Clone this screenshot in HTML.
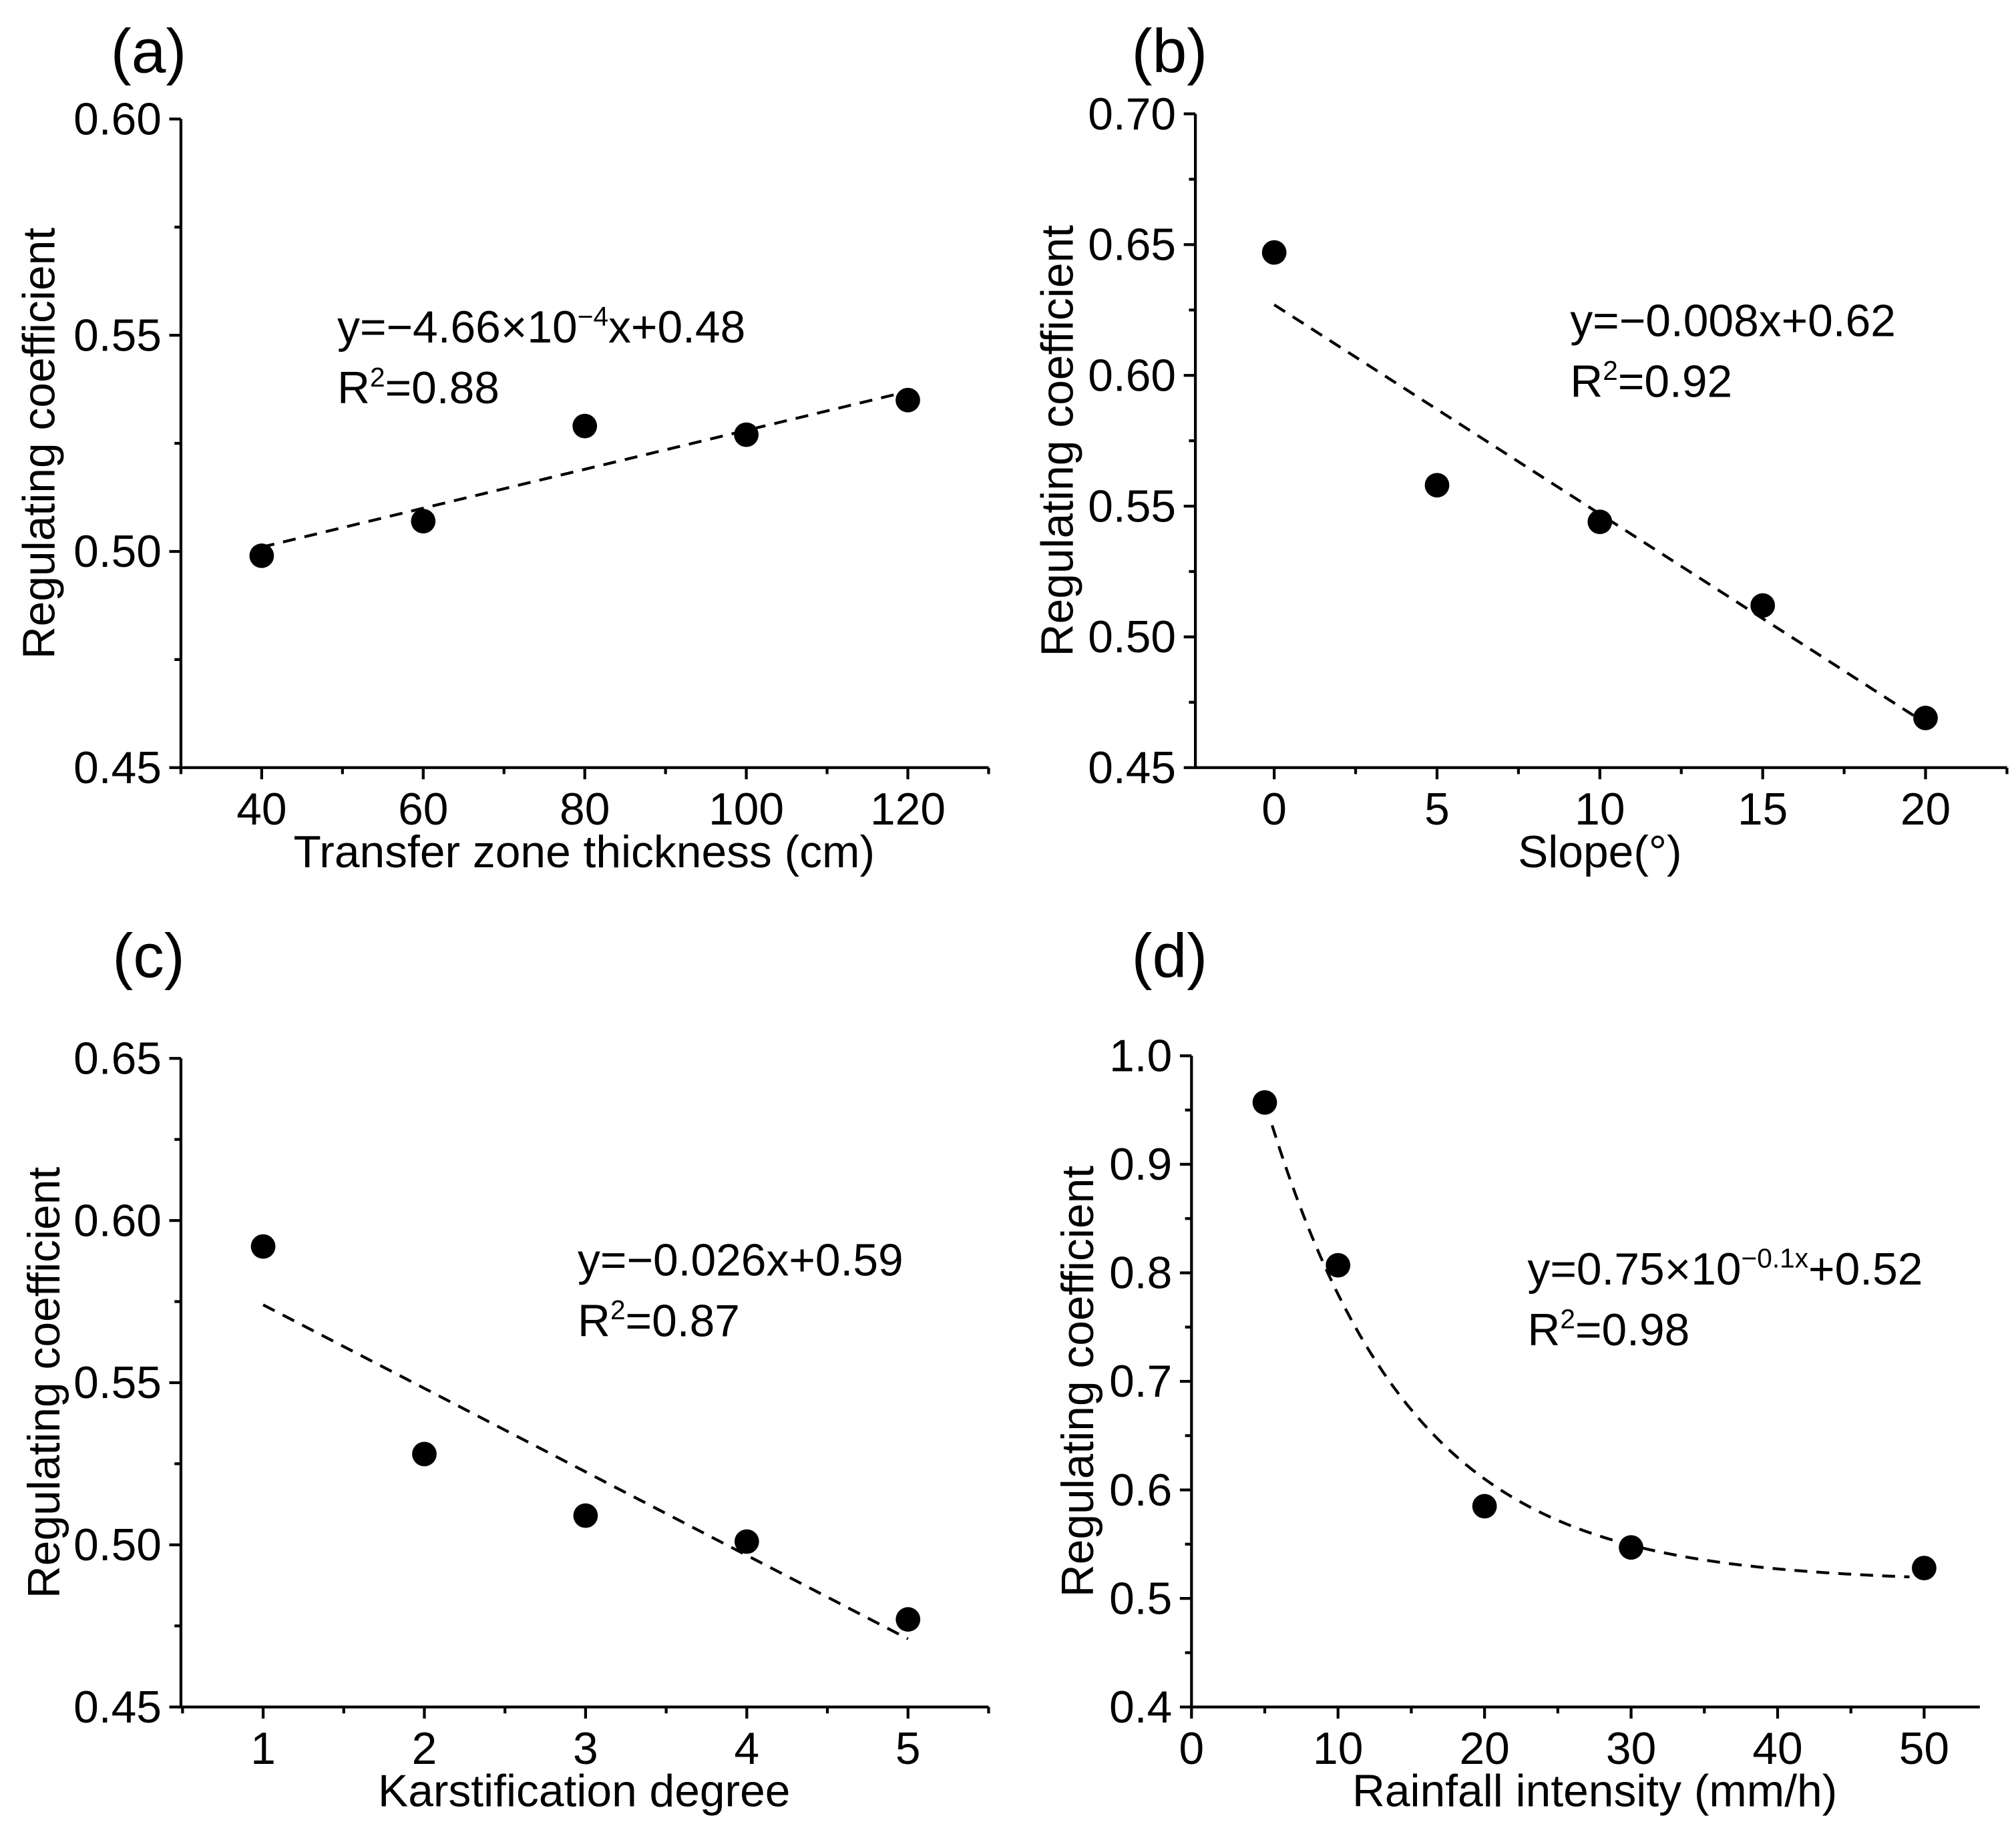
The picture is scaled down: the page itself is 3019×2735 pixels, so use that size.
<!DOCTYPE html>
<html><head><meta charset="utf-8"><style>
html,body{margin:0;padding:0;background:#fff}
svg{display:block}
text{font-family:"Liberation Sans",Arial,sans-serif;fill:#000}
</style></head><body>
<svg id="fig" width="3019" height="2735" viewBox="0 0 1560 1413" xmlns="http://www.w3.org/2000/svg"></svg>
<script>
// Panel (a)
const aX = [40, 60, 80, 100, 120];
const aY = [0.499, 0.507, 0.529, 0.527, 0.535];
const aXTicks = [40, 60, 80, 100, 120];
const aYTicks = [0.45, 0.50, 0.55, 0.60];
// Panel (b)
const bX = [0, 5, 10, 15, 20];
const bY = [0.647, 0.558, 0.544, 0.512, 0.469];
const bXTicks = [0, 5, 10, 15, 20];
const bYTicks = [0.45, 0.50, 0.55, 0.60, 0.65, 0.70];
// Panel (c)
const cX = [1, 2, 3, 4, 5];
const cY = [0.592, 0.528, 0.509, 0.501, 0.477];
const cXTicks = [1, 2, 3, 4, 5];
const cYTicks = [0.45, 0.50, 0.55, 0.60, 0.65];
// Panel (d)
const dX = [5, 10, 20, 30, 50];
const dY = [0.957, 0.807, 0.585, 0.547, 0.528];
const dXTicks = [0, 10, 20, 30, 40, 50];
const dYTicks = [0.4, 0.5, 0.6, 0.7, 0.8, 0.9, 1.0];
// Fit lines
const aFit = [[40, 0.501], [120, 0.537]];
const bFit = [[0, 0.627], [20, 0.467]];
const cFit = [[1, 0.574], [5, 0.471]];
const dFitParams = [0.74, 0.1026, 0.515, 5.5, 49];

const NS = "http://www.w3.org/2000/svg";
const svg = document.getElementById("fig");
function el(tag, attrs, parent) {
  const e = document.createElementNS(NS, tag);
  for (const k in attrs) e.setAttribute(k, attrs[k]);
  (parent || svg).appendChild(e);
  return e;
}

function panel(cfg) {
  const g = el("g", {});
  
  
  const sx = v => cfg.L + (v - cfg.x0) / (cfg.x1 - cfg.x0) * (cfg.R - cfg.L);
  const sy = v => cfg.B - (v - cfg.y0) / (cfg.y1 - cfg.y0) * (cfg.B - cfg.T);
  const ax = el("path", {d: `M${cfg.L},${cfg.T} V${cfg.B} H${cfg.R}`, fill: "none", stroke: "#000", "stroke-width": 2.2}, g);
  
  
  cfg.yTicks.forEach((v, i) => {
    const y = sy(v);
    el("line", {x1: cfg.L - 9, x2: cfg.L, y1: y, y2: y, stroke: "#000", "stroke-width": 2.2}, g);
    const t = el("text", {x: cfg.L - 15, y: y + 12, "font-size": 35, "text-anchor": "end"}, g);
    t.textContent = v.toFixed(cfg.yDec);
    
    
    if (i < cfg.yTicks.length - 1) {
      const ym = sy((v + cfg.yTicks[i + 1]) / 2);
      el("line", {x1: cfg.L - 5, x2: cfg.L, y1: ym, y2: ym, stroke: "#000", "stroke-width": 2.2}, g);
    }
  });
  const step = cfg.xTicks[1] - cfg.xTicks[0];
  for (let v = cfg.xTicks[0] - step; v <= cfg.x1 + 1e-9; v += step / 2) {
    if (v < cfg.x0 - 1e-9) continue;
    const x = sx(v);
    const major = cfg.xTicks.some(t => Math.abs(t - v) < 1e-9);
    el("line", {x1: x, x2: x, y1: cfg.B, y2: cfg.B + (major ? 9 : 5), stroke: "#000", "stroke-width": 2.2}, g);
  }
  cfg.xTicks.forEach(v => {
    const t = el("text", {x: sx(v), y: cfg.B + 44, "font-size": 35, "text-anchor": "middle"}, g);
    t.textContent = String(v);
    
    
  });
  const xt = el("text", {x: (cfg.xtx), y: cfg.B + 77, "font-size": 35, "text-anchor": "middle"}, g);
  xt.textContent = cfg.xTitle;
  
  
  const ytx = cfg.ytx, yty = (cfg.T + cfg.B) / 2;
  const yt = el("text", {x: ytx, y: yty, "font-size": 35, "text-anchor": "middle", transform: `rotate(-90 ${ytx} ${yty})`}, g);
  yt.textContent = "Regulating coefficient";
  
  
  const pl = el("text", {x: cfg.lx, y: cfg.ly, "font-size": 48, "text-anchor": "middle"}, g);
  pl.textContent = "(" + cfg.id + ")";
  
  
  let d = "";
  if (cfg.fit) {
    d = `M${sx(cfg.fit[0][0])},${sy(cfg.fit[0][1])} L${sx(cfg.fit[1][0])},${sy(cfg.fit[1][1])}`;
  } else {
    const [a, k, c, xs, xe] = cfg.curve;
    for (let i = 0; i <= 80; i++) {
      const x = xs + (xe - xs) * i / 80;
      d += (i ? " L" : "M") + sx(x).toFixed(2) + "," + sy(a * Math.exp(-k * x) + c).toFixed(2);
    }
  }
  const fl = el("path", {d: d, fill: "none", stroke: "#000", "stroke-width": 2.2, "stroke-dasharray": "10,7"}, g);
  
  
  cfg.xs.forEach((xv, i) => {
    const c = el("circle", {cx: sx(xv), cy: sy(cfg.ys[i]), r: 9.5, fill: "#000"}, g);
    
    
  });
  const eq = el("text", {x: cfg.ex, y: cfg.ey, "font-size": 35}, g);
  eq.innerHTML = cfg.eq;
  
  
  const r2 = el("text", {x: cfg.ex, y: cfg.ey + 47, "font-size": 35}, g);
  r2.innerHTML = 'R<tspan dy="-13" font-size="21">2</tspan><tspan dy="13">=' + cfg.r2 + '</tspan>';
  
  
}

panel({id: "a", L: 140, R: 765, T: 92, B: 594, x0: 30, x1: 130, y0: 0.45, y1: 0.60, yDec: 2,
  xs: aX, ys: aY, xTicks: aXTicks, yTicks: aYTicks, fit: aFit,
  xTitle: "Transfer zone thickness (cm)", xtx: 452, ytx: 42, lx: 115, ly: 56,
  ex: 261, ey: 265, eq: 'y=−4.66×10<tspan dy="-13" font-size="21">−4</tspan><tspan dy="13">x+0.48</tspan>', r2: "0.88"});
panel({id: "b", L: 925, R: 1553, T: 88, B: 594, x0: -2.42, x1: 22.5, y0: 0.45, y1: 0.70, yDec: 2,
  xs: bX, ys: bY, xTicks: bXTicks, yTicks: bYTicks, fit: bFit,
  xTitle: "Slope(°)", xtx: 1238, ytx: 830, lx: 905, ly: 56,
  ex: 1215, ey: 260, eq: 'y=−0.008x+0.62', r2: "0.92"});
panel({id: "c", L: 140, R: 765, T: 819, B: 1321, x0: 0.49, x1: 5.5, y0: 0.45, y1: 0.65, yDec: 2,
  xs: cX, ys: cY, xTicks: cXTicks, yTicks: cYTicks, fit: cFit,
  xTitle: "Karstification degree", xtx: 452, ytx: 46, lx: 115, ly: 756,
  ex: 447, ey: 987, eq: 'y=−0.026x+0.59', r2: "0.87"});
panel({id: "d", L: 922, R: 1532, T: 817, B: 1321, x0: 0, x1: 53.8, y0: 0.4, y1: 1.0, yDec: 1,
  xs: dX, ys: dY, xTicks: dXTicks, yTicks: dYTicks, curve: dFitParams,
  xTitle: "Rainfall intensity (mm/h)", xtx: 1234, ytx: 846, lx: 905, ly: 756,
  ex: 1182, ey: 994, eq: 'y=0.75×10<tspan dy="-13" font-size="21">−0.1x</tspan><tspan dy="13">+0.52</tspan>', r2: "0.98"});
</script>
</body></html>
